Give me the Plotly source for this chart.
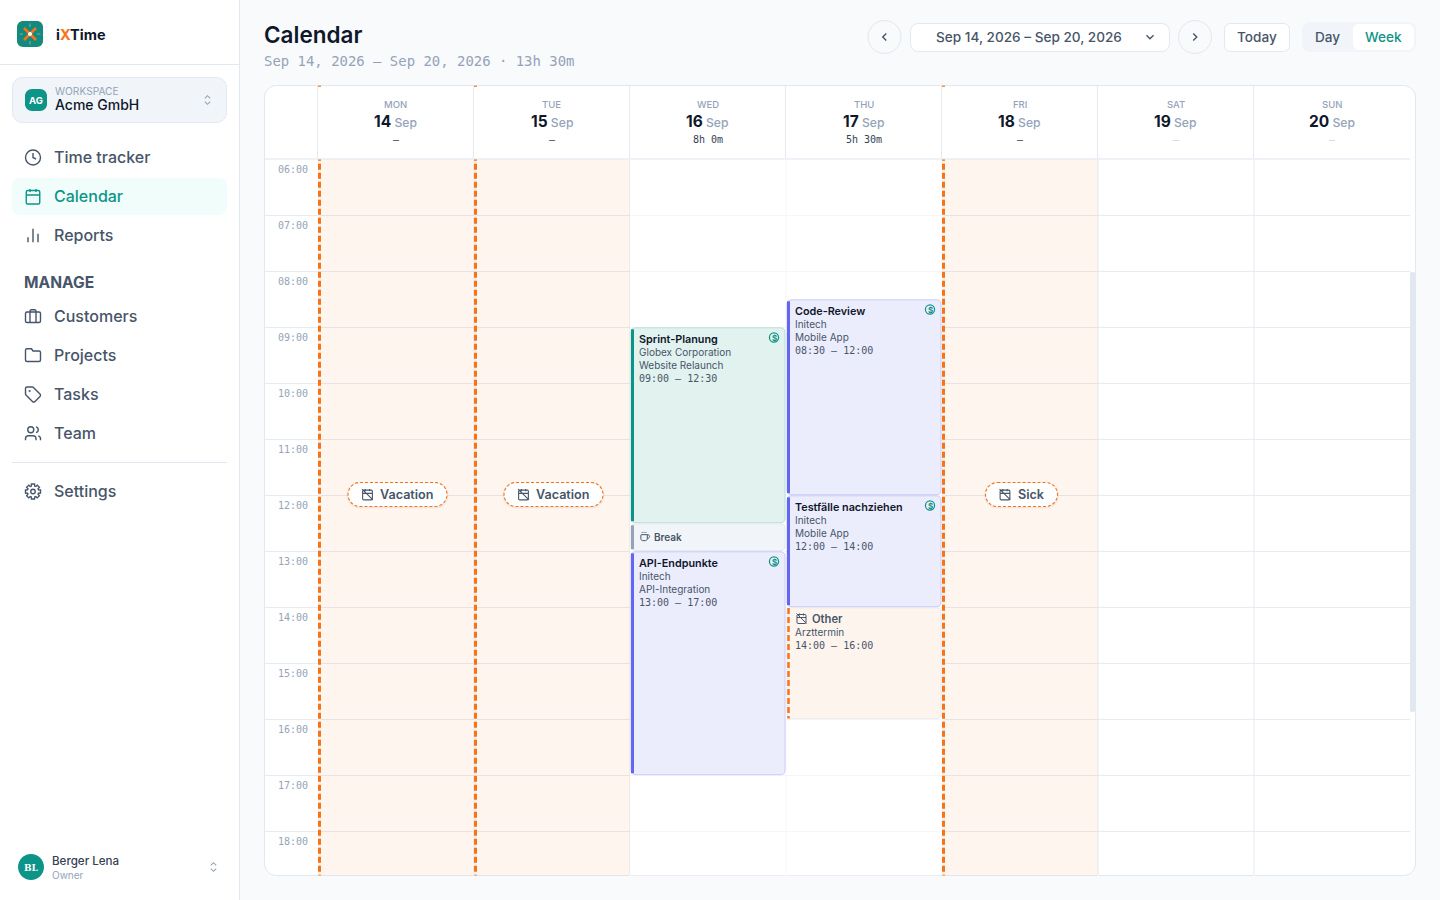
import math, re
import plotly.graph_objects as go

# ---------- data ----------
DAY_NAMES = ["MON", "TUE", "WED", "THU", "FRI", "SAT", "SUN"]
DAY_DATES = ["14", "15", "16", "17", "18", "19", "20"]
DAY_TOTALS = ["–", "–", "8h 0m", "5h 30m", "–", "–", "–"]
DAY_TOTAL_MUTED = [False, False, False, False, False, True, True]
HOURS = [6, 7, 8, 9, 10, 11, 12, 13, 14, 15, 16, 17, 18]

ABSENCE_DAYS = [0, 1, 4]
ABSENCE_LABELS = ["Vacation", "Vacation", "Sick"]

EVENT_DAYS = [2, 2, 2, 3, 3, 3]
EVENT_START = [9, 12.5, 13, 8.5, 12, 14]
EVENT_END = [12.5, 13, 17, 12, 14, 16]
EVENT_KIND = ["teal", "break", "indigo", "indigo", "indigo", "other"]
EVENT_TITLE = ["Sprint-Planung", "Break", "API-Endpunkte", "Code-Review", "Testfälle nachziehen", "Other"]
EVENT_CUSTOMER = ["Globex Corporation", "", "Initech", "Initech", "Initech", "Arzttermin"]
EVENT_PROJECT = ["Website Relaunch", "", "API-Integration", "Mobile App", "Mobile App", ""]

NAV_TOP = ["Time tracker", "Calendar", "Reports"]
NAV_MANAGE = ["Customers", "Projects", "Tasks", "Team"]

# ---------- constants ----------
W, H = 1440, 900
SANS = "Inter, 'Noto Sans', sans-serif"
MONO = "'DejaVu Sans Mono', monospace"
COL = 156.0   # px per day
ROW = 56.0    # px per hour
X0 = 318.0
Y0 = 159.5
PLOT_BOTTOM = 875.5
PLOT_RIGHT = 1410.0
PXX = 1 / COL
PXY = 1 / ROW
INK, SLATE, MUTED, BORDER = "#0f172a", "#475569", "#94a3b8", "#e2e8f0"
TEAL, INDIGO, ORANGE = "#0d9488", "#6366f1", "#f97316"
GRID = "#e8ebf3"

shapes, ann = [], []


def paper(x, y):
    return x / W, 1 - y / H


def draw(d, fill=None, line=None, lw=1.0, ox=0.0, oy=0.0, s=1.0, layer="below", mapper=paper, xref="paper", yref="paper", dash=None):
    toks = re.findall(r"[MLCZ]|-?\d*\.?\d+(?:e-?\d+)?", d)
    out, isx, last = [], True, None
    for t in toks:
        if t in "MLCZ":
            out.append(t)
            isx = True
        else:
            if isx:
                last = ox + float(t) * s
            else:
                mx, my = mapper(last, oy + float(t) * s)
                out.append(f"{mx:.6f},{my:.6f}")
            isx = not isx
    ln = dict(width=0)
    if line:
        ln = dict(color=line, width=lw)
        if dash:
            ln["dash"] = dash
    shapes.append(dict(type="path", path=" ".join(out), xref=xref, yref=yref, layer=layer,
                       fillcolor=fill or "rgba(0,0,0,0)", line=ln))


def rr(x0, y0, x1, y1, r=0.0):
    k = r * 0.4477
    return (f"M{x0+r} {y0} L{x1-r} {y0} C{x1-k} {y0} {x1} {y0+k} {x1} {y0+r} L{x1} {y1-r} "
            f"C{x1} {y1-k} {x1-k} {y1} {x1-r} {y1} L{x0+r} {y1} C{x0+k} {y1} {x0} {y1-k} {x0} {y1-r} "
            f"L{x0} {y0+r} C{x0} {y0+k} {x0+k} {y0} {x0+r} {y0} Z")


def circ(cx, cy, r):
    return rr(cx - r, cy - r, cx + r, cy + r, r)


def T(text, x, y, size, color, font=SANS, weight=400, anchor="left"):
    px, py = paper(x, y)
    ann.append(dict(xref="paper", yref="paper", x=px, y=py, xanchor=anchor, yanchor="middle", text=text,
                    showarrow=False, borderpad=0, borderwidth=0,
                    font=dict(family=font, size=size, color=color, weight=weight)))


def TD(text, day, hour, dx, dy, size, color, font=SANS, weight=400, anchor="left"):
    ann.append(dict(xref="x", yref="y", x=day, y=hour, xshift=dx, yshift=-dy, xanchor=anchor, yanchor="middle",
                    text=text, showarrow=False, borderpad=0, borderwidth=0,
                    font=dict(family=font, size=size, color=color, weight=weight)))


def icon(d, cx, cy, size=18, color=SLATE, lw=1.4, layer="above"):
    s = size / 24
    draw(d, line=color, lw=lw, ox=cx - 12 * s, oy=cy - 12 * s, s=s, layer=layer)


GEAR = []
for i in range(8):
    a = i * math.pi / 4
    for off, rad in ((-0.30, 7.6), (-0.20, 10.2), (0.20, 10.2), (0.30, 7.6)):
        GEAR.append((12 + rad * math.cos(a + off), 12 + rad * math.sin(a + off)))
GEAR_D = "M" + " L".join(f"{x:.2f} {y:.2f}" for x, y in GEAR) + " Z " + circ(12, 12, 3)

ICONS = {
    "clock": circ(12, 12, 10) + " M12 6 L12 12 L16 14",
    "calendar": rr(3, 4, 21, 22, 2) + " M16 2 L16 6 M8 2 L8 6 M3 10 L21 10 M8 14 L8.1 14 M12 14 L12.1 14 M16 14 L16.1 14 M8 18 L8.1 18 M12 18 L12.1 18 M16 18 L16.1 18",
    "bars": "M6 20 L6 14 M12 20 L12 4 M18 20 L18 10",
    "brief": rr(2, 6, 22, 20, 2) + " M16 20 L16 5 C16 4 15 3 14 3 L10 3 C9 3 8 4 8 5 L8 20",
    "folder": "M20 20 C21 20 22 19 22 18 L22 8 C22 7 21 6 20 6 L12 6 L10 3 L4 3 C3 3 2 4 2 5 L2 18 C2 19 3 20 4 20 Z",
    "tag": "M12.6 2.6 C12.2 2.2 11.7 2 11.2 2 L4 2 C2.9 2 2 2.9 2 4 L2 11.2 C2 11.7 2.2 12.2 2.6 12.6 L11.3 21.3 C12.2 22.2 13.8 22.2 14.7 21.3 L21.3 14.7 C22.2 13.8 22.2 12.2 21.3 11.3 Z " + circ(7.5, 7.5, 0.5),
    "users": "M16 21 L16 19 C16 16.8 14.2 15 12 15 L6 15 C3.8 15 2 16.8 2 19 L2 21 " + circ(9, 7, 4) + " M22 21 L22 19 C22 17.2 20.8 15.6 19 15.1 M16 3.1 C17.8 3.6 19 5.2 19 7 C19 8.8 17.8 10.4 16 10.9",
    "gear": GEAR_D,
    "updown": "M7 9 L12 4 L17 9 M7 15 L12 20 L17 15",
    "left": "M15 18 L9 12 L15 6",
    "right": "M9 18 L15 12 L9 6",
    "down": "M6 9 L12 15 L18 9",
    "caloff": rr(3, 4, 21, 22, 2) + " M16 2 L16 6 M8 2 L8 6 M3 10 L21 10 M2 2 L22 22",
    "coffee": "M10 2 L10 4 M14 2 L14 4 M6 2 L6 4 M4 8 L17 8 L17 17 C17 19 15 21 13 21 L7 21 C5 21 3 19 3 17 L3 9 C3 8.5 3.5 8 4 8 Z M17 8 L18 8 C20 8 22 10 22 12 C22 14 20 16 18 16 L17 16",
}

# ---------- page chrome ----------
draw(rr(240, -1, 1441, 901), fill="#f8fafc")
draw(rr(-1, -1, 239.5, 901), fill="#ffffff", line=BORDER)
draw("M0 64.5 L239 64.5", line=BORDER)

# logo
draw(rr(17, 21, 43, 47, 6), fill="#14897d", layer="above")
draw("M30 23.5 L30 27 M30 41 L30 44.5 M19.5 34 L23 34 M37 34 L40.5 34", line="#5cb8ad", lw=1.2, layer="above")
draw("M24 28 L36 40 M36 28 L24 40", line=ORANGE, lw=2.6, layer="above")
draw(circ(30, 34, 2), fill="#ffffff", layer="above")
T("i<span style='color:#f97316'>X</span>Time", 56, 34.5, 14.5, INK, weight=700)

# workspace
draw(rr(12.5, 77.5, 226.5, 122.5, 10), fill="#f1f5f9", line=BORDER)
draw(rr(25, 89, 47, 111, 7), fill=TEAL, layer="above")
T("AG", 36, 100.5, 9.5, "#ffffff", weight=700, anchor="center")
T("WORKSPACE", 55, 90.7, 10.2, MUTED)
T("Acme GmbH", 55, 104.7, 14, INK, weight=500)
icon(ICONS["updown"], 207.5, 100, size=13, color=MUTED, lw=1.1)

# nav
draw(rr(12, 178, 227, 215, 8), fill="#f0fdfa")
NAV_Y = [157, 196, 235]
NAV_IC = ["clock", "calendar", "bars"]
for name, y, ic in zip(NAV_TOP, NAV_Y, NAV_IC):
    c = TEAL if name == "Calendar" else SLATE
    T(name, 54, y, 16, c, weight=500)
    icon(ICONS[ic], 33, y + 0.5, size=20 if ic == "bars" else 18, color=c)
T("MANAGE", 24, 282.5, 15.6, SLATE, weight=700)
M_Y = [316, 355, 394, 433]
M_IC = ["brief", "folder", "tag", "users"]
for name, y, ic in zip(NAV_MANAGE, M_Y, M_IC):
    T(name, 54, y, 16, SLATE, weight=500)
    icon(ICONS[ic], 33, y + 0.5, size=18)
draw("M12 462.5 L227 462.5", line=BORDER)
T("Settings", 54, 491, 16, SLATE, weight=500)
icon(ICONS["gear"], 33, 491.5, size=18)

# user
draw(circ(31, 867, 13), fill=TEAL, layer="above")
T("BL", 31, 867.5, 9, "#ffffff", font="'DejaVu Serif', serif", weight=700, anchor="center")
T("Berger Lena", 52, 861, 11.6, "#334155", weight=500)
T("Owner", 52, 874.5, 10, MUTED)
icon(ICONS["updown"], 213.5, 867, size=13, color=MUTED, lw=1.1)

# toolbar
T("Calendar", 264, 35, 22.5, INK, weight=600)
T("Sep 14, 2026 – Sep 20, 2026 · 13h 30m", 264, 61, 13.95, MUTED, font=MONO)
draw(circ(884.5, 37, 16.5), fill="#f8fafc", line=BORDER)
icon(ICONS["left"], 884.5, 37, size=14, color=SLATE)
draw(rr(910.5, 23.5, 1169.5, 51.5, 8), fill="#ffffff", line=BORDER)
T("Sep 14, 2026 – Sep 20, 2026", 1028.5, 37.5, 13.6, SLATE, weight=500, anchor="center")
icon(ICONS["down"], 1150, 37, size=14, color=SLATE)
draw(circ(1195, 37, 16.5), fill="#f8fafc", line=BORDER)
icon(ICONS["right"], 1195, 37, size=14, color=SLATE)
draw(rr(1224.5, 23.5, 1289.5, 51.5, 6), fill="#ffffff", line=BORDER)
T("Today", 1257, 37.5, 13.6, SLATE, weight=500, anchor="center")
draw(rr(1302, 22, 1416, 52, 8), fill="#f1f5f9")
draw(rr(1353, 24, 1414, 50, 6), fill="#ffffff")
T("Day", 1327.5, 37.5, 13.6, SLATE, weight=500, anchor="center")
T("Week", 1383.5, 37.5, 13.6, TEAL, weight=500, anchor="center")

# calendar card
draw(rr(264.5, 85.5, 1415.5, 875.5, 12), fill="#ffffff", line=BORDER)
draw("M265 159 L1410 159", line="#eef1f6", lw=2)
for k in range(7):
    px = X0 + k * COL - 0.5
    draw(f"M{px} 86 L{px} 158", line="#e6eaf0", lw=1)
for h in HOURS[1:]:
    py = Y0 + (h - 6) * ROW
    draw(f"M265 {py} L318 {py}", line=GRID)
draw(rr(1410, 272, 1415.2, 712, 2), fill=BORDER, layer="above")

# day headers
for k, (n, dt, tot, muted) in enumerate(zip(DAY_NAMES, DAY_DATES, DAY_TOTALS, DAY_TOTAL_MUTED)):
    cx = X0 + (k + 0.5) * COL
    T(n, cx - 0.5, 104.6, 9.5, MUTED, weight=500, anchor="center")
    T(f"<span style='font-size:15.5px;font-weight:700;color:{INK}'>{dt}</span> Sep", cx - 0.5, 121.8, 12.2, MUTED, weight=500, anchor="center")
    T(tot, cx, 139.5, 10, "#cbd5e1" if muted else "#334155", font=MONO, anchor="center")

# ---------- marks ----------
traces = []
top_hour = 6 - 4.8 * PXY
# paler hour rules in the worked days
traces.append(go.Bar(x=[2.5, 3.5], base=[6, 6], y=[13, 13], width=1,
                     marker=dict(color="rgba(255,255,255,0.55)", line=dict(width=0)), hoverinfo="skip", showlegend=False))
# absence columns
traces.append(go.Bar(x=[d + 0.5 for d in ABSENCE_DAYS], base=[6] * 3, y=[13] * 3, width=1,
                     marker=dict(color="rgba(249,115,22,0.07)", line=dict(width=0)), hoverinfo="skip", showlegend=False))
for d in ABSENCE_DAYS:
    xx = d + 1.5 * PXX
    traces.append(go.Scatter(x=[xx, xx], y=[6, 19], mode="lines", line=dict(color="#f5f1ef", width=3),
                             hoverinfo="skip", showlegend=False))
    traces.append(go.Scatter(x=[xx, xx], y=[top_hour, 19], mode="lines",
                             line=dict(color=ORANGE, width=3, dash="6px,3px"), hoverinfo="skip", showlegend=False))
    px = X0 + d * COL
    draw(rr(px, 85.5, px + 3, 87), fill="#fb923c", layer="above")

STYLE = {
    "teal": ("#e2f2ef", "#b5e0d9", TEAL),
    "indigo": ("#ecedfc", "#cbccf7", INDIGO),
    "break": ("#f1f5f9", BORDER, MUTED),
    "other": ("#fdf4ee", "#e8e9f0", ORANGE),
}


def rounded_box(x0, x1, y0, y1, rx, ry, n=5):
    xs, ys = [], []
    for cx, cy, a0 in ((x1 - rx, y0 + ry, -90), (x1 - rx, y1 - ry, 0), (x0 + rx, y1 - ry, 90), (x0 + rx, y0 + ry, 180)):
        for i in range(n + 1):
            a = math.radians(a0 + 90 * i / n)
            xs.append(cx + rx * math.cos(a))
            ys.append(cy + ry * math.sin(a))
    return xs + xs[:1], ys + ys[:1]


for d, s, e, k in zip(EVENT_DAYS, EVENT_START, EVENT_END, EVENT_KIND):
    fill, edge, accent = STYLE[k]
    x0, x1 = d + 1 * PXX, d + 155 * PXX
    y0, y1 = s + 0.3 * PXY, e - 0.8 * PXY
    xs, ys = rounded_box(x0, x1, y0, y1, 4 * PXX, 4 * PXY)
    traces.append(go.Scatter(x=xs, y=ys, mode="lines", fill="toself", fillcolor=fill,
                             line=dict(color=edge, width=1), hoverinfo="skip", showlegend=False))
    ax = d + 2.5 * PXX
    if k == "other":
        traces.append(go.Scatter(x=[ax, ax], y=[s + 0.4 * PXY, e - 1 * PXY], mode="lines",
                                 line=dict(color=accent, width=2.5, dash="6px,3px"), hoverinfo="skip", showlegend=False))
    else:
        traces.append(go.Scatter(x=[ax, ax], y=[y0 + 1.5 * PXY, y1 - 1.5 * PXY], mode="lines",
                                 line=dict(color=accent, width=3), hoverinfo="skip", showlegend=False))


def hhmm(h):
    return f"{int(h):02d}:{int(round((h - int(h)) * 60)):02d}"


def on_axis(d, day, hour, px_x, px_y, size, **kw):
    """Draw a 24-box icon at a pixel offset from a (day, hour) position on the axes."""
    s = size / 24
    def mp(x, y):
        return day + (px_x + (x - 12) * s) * PXX, hour + (px_y + (y - 12) * s) * PXY
    draw(d, mapper=mp, xref="x", yref="y", **kw)


for d, s, e, k, title, cust, proj in zip(EVENT_DAYS, EVENT_START, EVENT_END, EVENT_KIND, EVENT_TITLE, EVENT_CUSTOMER, EVENT_PROJECT):
    span = f"{hhmm(s)} – {hhmm(e)}"
    if k == "break":
        on_axis(ICONS["coffee"], d, s, 15, 13, 11, line=SLATE, lw=1, layer="above")
        TD(title, d, s, 24, 13.5, 10, SLATE, weight=600)
    elif k == "other":
        on_axis(ICONS["caloff"], d, s, 15.5, 11, 12, line=SLATE, lw=1, layer="above")
        TD(title, d, s, 26, 11, 11.2, SLATE, weight=600)
        TD(cust, d, s, 9, 24.5, 10, SLATE)
        TD(span, d, s, 9, 37.5, 10, SLATE, font=MONO)
    else:
        TD(title, d, s, 9, 11.6, 10.8, INK, weight=600)
        TD(cust, d, s, 9, 24.5, 10, SLATE)
        TD(proj, d, s, 9, 37.5, 10, SLATE)
        TD(span, d, s, 9, 51, 10, SLATE, font=MONO)
        on_axis(circ(12, 12, 10), d, s, 144, 10, 11, line=TEAL, lw=1.2, layer="above")
        TD("$", d, s, 144, 10.5, 8, TEAL, weight=700, anchor="center")

# absence pills
PILL_W = {"Vacation": 99, "Sick": 72}
LABEL_HOUR = 12
for d, lab in zip(ABSENCE_DAYS, ABSENCE_LABELS):
    w = PILL_W[lab]
    c = 79.5
    l, r = c - w / 2, c + w / 2
    def mp(x, y, d=d):
        return d + x * PXX, LABEL_HOUR + y * PXY
    draw(rr(l - 1.5, -13.5, r + 1.5, 13, 13), fill="rgba(15,23,42,0.05)", mapper=mp, xref="x", yref="y", layer="above")
    draw(rr(l, -13, r, 11, 12), fill="#ffffff", line="#f97316", lw=1.1, dash="3px,2px", mapper=mp, xref="x", yref="y", layer="above")
    on_axis(ICONS["caloff"], d, LABEL_HOUR, l + 19.5, -1, 13, line=SLATE, lw=1.1, layer="above")
    TD(lab, d, LABEL_HOUR, l + 32, -1, 12.6, SLATE, weight=600)

fig = go.Figure(traces)
fig.update_layout(
    width=W, height=H, autosize=False, margin=dict(l=0, r=0, t=0, b=0, autoexpand=False),
    paper_bgcolor="#f8fafc", plot_bgcolor="rgba(0,0,0,0)", barmode="overlay", showlegend=False,
    shapes=shapes, annotations=ann, hovermode=False,
    xaxis=dict(domain=[X0 / W, PLOT_RIGHT / W], range=[0, 7], tickmode="array", tickvals=list(range(7)),
               showticklabels=False, ticks="", showgrid=True, gridcolor="#f1f5f9", gridwidth=2, zeroline=False,
               showline=False, fixedrange=True),
    yaxis=dict(domain=[1 - PLOT_BOTTOM / H, 1 - Y0 / H], range=[6 + (PLOT_BOTTOM - Y0) / ROW, 6], tickmode="array",
               tickvals=HOURS, ticktext=[f"{h:02d}:00" for h in HOURS], ticks="", showgrid=True, gridcolor=GRID,
               gridwidth=1, zeroline=False, showline=False, fixedrange=True, ticklabelshift=-10, ticklabelstandoff=9,
               tickfont=dict(family=MONO, size=10, color=MUTED)),
)
fig.write_html("out.html", config={"displayModeBar": False},
               post_script="document.body.style.margin='0';document.body.style.overflow='hidden';")
